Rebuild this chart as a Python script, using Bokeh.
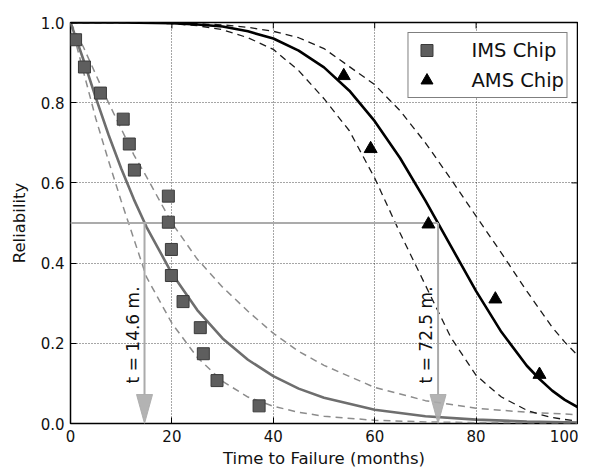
import numpy as np
from bokeh.plotting import figure
from bokeh.models import (Range1d, FixedTicker, PrintfTickFormatter,
                          Legend, LegendItem, ColumnDataSource)
from bokeh.core.properties import value
from bokeh.embed import file_html
from bokeh.resources import INLINE

# ---------------- data ----------------
ims_t = [1.0, 2.75, 5.9, 10.4, 11.6, 12.6, 19.3, 19.3, 19.9, 19.9, 22.2, 25.6, 26.2, 28.9, 37.2]
ims_r = [0.957, 0.889, 0.824, 0.759, 0.697, 0.632, 0.567, 0.502, 0.434, 0.369, 0.304, 0.239, 0.174, 0.107, 0.044]

ams_t = [53.9, 59.2, 70.6, 83.8, 92.5]
ams_r = [0.867, 0.685, 0.497, 0.310, 0.122]

ims_curve_t = [0, 2.5, 5, 7.5, 10, 12.5, 15, 20, 25, 30, 35, 40, 45, 50, 60, 70, 80, 90, 100]
ims_fit = [1.0, 0.909, 0.812, 0.720, 0.636, 0.559, 0.490, 0.374, 0.283, 0.212, 0.159, 0.118,
           0.087, 0.064, 0.0345, 0.018, 0.0096, 0.005, 0.0026]
ims_upper = [1.0, 0.94, 0.87, 0.80, 0.735, 0.67, 0.615, 0.50, 0.41, 0.34, 0.28, 0.225,
             0.18, 0.145, 0.09, 0.057, 0.038, 0.028, 0.022]
ims_lower = [1.0, 0.88, 0.76, 0.655, 0.555, 0.46, 0.365, 0.25, 0.165, 0.105, 0.066, 0.043,
             0.028, 0.018, 0.008, 0.004, 0.002, 0.001, 0.0005]

ams_curve_t = [0, 10, 20, 25, 30, 35, 40, 45, 50, 55, 60, 65, 70, 75, 80, 85, 90, 92.5, 95, 97.5, 100]
ams_fit = [1.0, 1.0, 0.998, 0.995, 0.990, 0.978, 0.960, 0.930, 0.888, 0.830, 0.754, 0.662,
           0.556, 0.443, 0.330, 0.228, 0.144, 0.111, 0.082, 0.059, 0.041]
ams_upper = [1.0, 1.0, 0.999, 0.997, 0.994, 0.988, 0.978, 0.962, 0.935, 0.89, 0.845, 0.78,
             0.70, 0.61, 0.517, 0.425, 0.33, 0.285, 0.24, 0.203, 0.17]
ams_lower = [1.0, 1.0, 0.997, 0.992, 0.982, 0.962, 0.933, 0.88, 0.81, 0.73, 0.612, 0.475,
             0.345, 0.215, 0.12, 0.066, 0.033, 0.023, 0.015, 0.01, 0.006]

median_r = 0.5
medians = [14.6, 72.5]
median_labels = ["t = 14.6 m.", "t = 72.5 m."]

x_ticks = [0, 20, 40, 60, 80, 100]
y_ticks = [0.0, 0.2, 0.4, 0.6, 0.8, 1.0]
series_names = ["IMS Chip", "AMS Chip"]

FONT = "DejaVu Sans"

# ---------------- figure ----------------
W, H = 578, 470
p = figure(width=W, height=H, output_backend="svg", toolbar_location=None,
           x_range=Range1d(0, 100), y_range=Range1d(0, 1.0),
           min_border_left=70, min_border_right=1, min_border_top=22, min_border_bottom=47)
p.background_fill_color = "white"
p.border_fill_color = "white"
p.outline_line_color = "black"
p.outline_line_width = 1.5

# pixel -> data conversion for small fixed-size decorations
px_x = 100.0 / (W - 70 - 1)
px_y = 1.0 / (H - 22 - 47)

p.xaxis.ticker = FixedTicker(ticks=x_ticks)
p.yaxis.ticker = FixedTicker(ticks=y_ticks)
p.yaxis.formatter = PrintfTickFormatter(format="%.1f")
p.xaxis.axis_label = "Time to Failure (months)"
p.yaxis.axis_label = "Reliability"

for ax in [p.xaxis[0], p.yaxis[0]]:
    ax.axis_line_color = None
    ax.major_tick_in = 6
    ax.major_tick_out = 0
    ax.minor_tick_in = 0
    ax.minor_tick_out = 0
    ax.major_tick_line_color = "black"
    ax.major_label_text_font = FONT
    ax.major_label_text_font_size = "15px"
    ax.major_label_text_color = "#111111"
    ax.axis_label_text_font = FONT
    ax.axis_label_text_font_size = "16.5px"
    ax.axis_label_text_font_style = "normal"
    ax.axis_label_text_color = "#111111"
    ax.major_label_standoff = 6

p.xaxis.axis_label_standoff = 4
p.yaxis.axis_label_standoff = 9

for g in [p.xgrid[0], p.ygrid[0]]:
    g.grid_line_color = "black"
    g.grid_line_alpha = 0.7
    g.grid_line_width = 1
    g.grid_line_dash = "1 2"

# inward ticks on the top and right edges
tick_len = 6
p.segment(x0=x_ticks, y0=[p.y_range.end] * len(x_ticks), x1=x_ticks,
          y1=[p.y_range.end - tick_len * px_y] * len(x_ticks), line_color="black", line_width=1)
p.segment(x0=[p.x_range.end] * len(y_ticks), y0=y_ticks,
          x1=[p.x_range.end - tick_len * px_x] * len(y_ticks), y1=y_ticks,
          line_color="black", line_width=1)

# ---------------- curves ----------------
p.line(ims_curve_t, ims_upper, line_color="#8c8c8c", line_width=1.5, line_dash="7 5")
p.line(ims_curve_t, ims_lower, line_color="#8c8c8c", line_width=1.5, line_dash="7 5")
p.line(ims_curve_t, ims_fit, line_color="#6e6e6e", line_width=2.6)

p.line(ams_curve_t, ams_upper, line_color="#1a1a1a", line_width=1.3, line_dash="7 5")
p.line(ams_curve_t, ams_lower, line_color="#1a1a1a", line_width=1.3, line_dash="7 5")
p.line(ams_curve_t, ams_fit, line_color="black", line_width=2.6)

# ---------------- median markers ----------------
arrow_color = "#ababab"
p.segment(x0=[p.x_range.start], y0=[median_r], x1=[max(medians)], y1=[median_r],
          line_color=arrow_color, line_width=2)
head_w = 16 * px_x
head_l = 29 * px_y
p.segment(x0=medians, y0=[median_r] * len(medians), x1=medians, y1=[head_l] * len(medians),
          line_color=arrow_color, line_width=2)
head_src = ColumnDataSource(data=dict(
    xs=[[m - head_w / 2, m + head_w / 2, m] for m in medians],
    ys=[[head_l, head_l, p.y_range.start] for m in medians]))
p.patches("xs", "ys", source=head_src, fill_color=arrow_color, fill_alpha=0.9,
          line_color=arrow_color, line_alpha=0.9, line_width=1)

p.text(x=[m - 11.7 * px_x for m in medians], y=[0.1] * len(medians), text=median_labels,
       angle=np.pi / 2, text_align="left", text_baseline="middle",
       text_font=value(FONT), text_font_size="17px", text_color="#111111")

# ---------------- data points ----------------
sq = p.scatter(ims_t, ims_r, marker="square", size=12, fill_color="#5e5e5e",
               line_color="#3a3a3a", line_width=1)
tri = p.scatter(ams_t, ams_r, marker="triangle", size=13, fill_color="black",
                line_color="black", line_width=1)

legend = Legend(items=[LegendItem(label=series_names[0], renderers=[sq]),
                       LegendItem(label=series_names[1], renderers=[tri])],
                location="top_right", margin=10, padding=2, spacing=0,
                glyph_height=30, glyph_width=32, label_standoff=29, label_width=92,
                label_text_font=FONT, label_text_font_size="19.5px",
                label_text_color="#111111",
                border_line_color="black", border_line_width=1.3,
                background_fill_color="white", background_fill_alpha=1.0)
p.add_layout(legend)

open("out.html", "w").write(file_html(p, INLINE))
